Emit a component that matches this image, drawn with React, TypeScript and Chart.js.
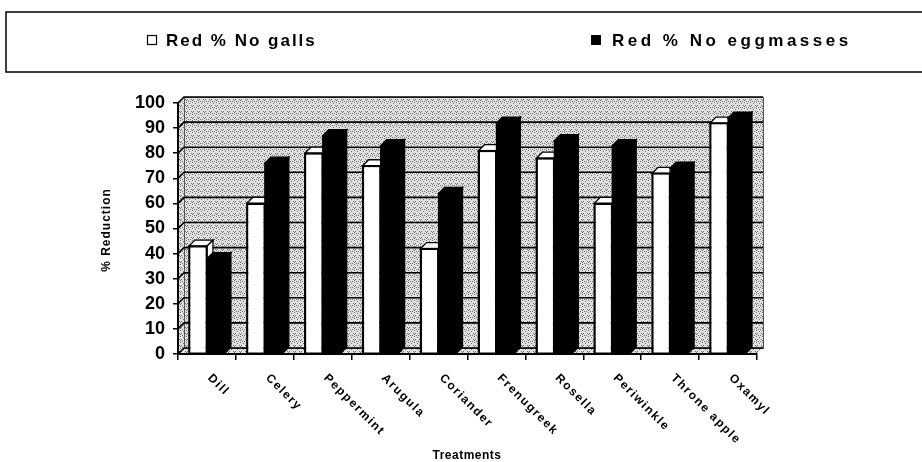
import React, { useEffect, useRef } from "react";
import { Chart, registerables } from "chart.js";

Chart.register(...registerables);

const categories = ["Dill", "Celery", "Peppermint", "Arugula", "Coriander", "Frenugreek", "Rosella", "Periwinkle", "Throne apple", "Oxamyl"];
const seriesLabels = ["Red % No galls", "Red % No eggmasses"];
const gallsReduction = [43, 60, 80, 75, 42, 81, 78, 60, 72, 92];
const eggmassReduction = [38, 76, 87, 83, 64, 92, 85, 83, 74, 94];
const yMin = 0;
const yMax = 100;
const yStep = 10;
const xTitle = "Treatments";
const yTitle = "% Reduction";

const FONT = '"Liberation Sans", Arial, sans-serif';
const DX = 6;
const DY = -6;

function makePattern(): CanvasPattern | string {
  const pc = document.createElement("canvas");
  pc.width = 6;
  pc.height = 6;
  const p = pc.getContext("2d");
  if (!p) return "#c8c8c8";
  p.fillStyle = "#e0e0e0";
  p.fillRect(0, 0, 6, 6);
  p.fillStyle = "#707070";
  const dots = [[0, 0], [3, 1], [5, 3], [1, 3], [4, 5], [2, 5], [0, 4]];
  dots.forEach(([x, y]) => p.fillRect(x, y, 1, 1));
  const pat = p.createPattern(pc, "repeat");
  return pat || "#c8c8c8";
}

function setSpacing(ctx: any, v: string) {
  try { ctx.letterSpacing = v; } catch (e) { /* ignore */ }
}

export default function App() {
  const ref = useRef<HTMLCanvasElement | null>(null);

  useEffect(() => {
    const canvas = ref.current;
    if (!canvas) return;
    const pattern = makePattern();

    const wallPlugin = {
      id: "wall3d",
      beforeDraw(chart: any) {
        const { ctx, chartArea } = chart;
        const { left, right, top, bottom } = chartArea;
        const ys = chart.scales.y;
        ctx.save();
        ctx.fillStyle = pattern;
        ctx.fillRect(left + DX, top + DY, right - left, bottom - top);
        ctx.beginPath();
        ctx.moveTo(left, top);
        ctx.lineTo(left + DX, top + DY);
        ctx.lineTo(left + DX, bottom + DY);
        ctx.lineTo(left, bottom);
        ctx.closePath();
        ctx.fill();
        ctx.beginPath();
        ctx.moveTo(left, bottom);
        ctx.lineTo(left + DX, bottom + DY);
        ctx.lineTo(right + DX, bottom + DY);
        ctx.lineTo(right, bottom);
        ctx.closePath();
        ctx.fill();
        ctx.strokeStyle = "#555";
        ctx.lineWidth = 1;
        ctx.strokeRect(left + DX + 0.5, top + DY + 0.5, right - left, bottom - top);
        ctx.strokeStyle = "#000";
        ctx.lineWidth = 1.6;
        ys.ticks.forEach((t: any) => {
          const y = ys.getPixelForValue(t.value);
          ctx.beginPath();
          ctx.moveTo(left, y);
          ctx.lineTo(left + DX, y + DY);
          ctx.lineTo(right + DX, y + DY);
          ctx.stroke();
        });
        ctx.restore();
      },
      afterDatasetsDraw(chart: any) {
        const { ctx } = chart;
        const m0 = chart.getDatasetMeta(0);
        const m1 = chart.getDatasetMeta(1);
        const box = (el: any, fill: string, front: boolean) => {
          const { x, y, base, width } = el.getProps(["x", "y", "base", "width"], true);
          const l = x - width / 2;
          const r = x + width / 2;
          ctx.fillStyle = fill;
          ctx.strokeStyle = "#000";
          ctx.lineWidth = 1.3;
          if (front) {
            ctx.fillRect(l, y, width, base - y);
          }
          ctx.beginPath();
          ctx.moveTo(r, base);
          ctx.lineTo(r, y);
          ctx.lineTo(r + DX, y + DY);
          ctx.lineTo(r + DX, base + DY);
          ctx.closePath();
          ctx.fill();
          ctx.stroke();
          ctx.beginPath();
          ctx.moveTo(l, y);
          ctx.lineTo(l + DX, y + DY);
          ctx.lineTo(r + DX, y + DY);
          ctx.lineTo(r, y);
          ctx.closePath();
          ctx.fill();
          ctx.stroke();
          if (front) {
            ctx.strokeRect(l, y, width, base - y);
          }
        };
        ctx.save();
        for (let i = 0; i < m0.data.length; i++) {
          box(m0.data[i], "#ffffff", false);
          const p0 = m0.data[i].getProps(["x", "y", "base", "width"], true);
          ctx.strokeStyle = "#000";
          ctx.lineWidth = 1.5;
          ctx.strokeRect(p0.x - p0.width / 2, p0.y, p0.width, p0.base - p0.y);
          box(m1.data[i], "#000000", true);
        }
        ctx.restore();
      },
      afterDraw(chart: any) {
        const { ctx, chartArea } = chart;
        const xs = chart.scales.x;
        ctx.save();
        ctx.strokeStyle = "#000";
        ctx.lineWidth = 1.5;
        ctx.strokeRect(6, 12, 960, 60);
        ctx.fillStyle = "#fff";
        ctx.fillRect(147.5, 35.5, 9, 9);
        ctx.strokeStyle = "#000";
        ctx.lineWidth = 1.2;
        ctx.strokeRect(147.5, 35.5, 9, 9);
        ctx.fillStyle = "#000";
        ctx.fillRect(591, 35, 10, 10);
        ctx.font = `bold 17px ${FONT}`;
        ctx.textBaseline = "middle";
        ctx.textAlign = "left";
        setSpacing(ctx, "2px");
        ctx.fillText(chart.data.datasets[0].label, 166, 41);
        setSpacing(ctx, "3.5px");
        ctx.fillText(chart.data.datasets[1].label, 612, 41);
        ctx.font = `bold 12px ${FONT}`;
        setSpacing(ctx, "1.5px");
        ctx.textBaseline = "top";
        chart.data.labels.forEach((lab: string, i: number) => {
          const x = xs.getPixelForValue(i) + 7;
          const y = chartArea.bottom + 18;
          ctx.save();
          ctx.translate(x, y);
          ctx.rotate(Math.PI / 4);
          ctx.fillText(lab, 0, 0);
          ctx.restore();
        });
        ctx.textBaseline = "middle";
        ctx.textAlign = "center";
        ctx.font = `bold 12px ${FONT}`;
        setSpacing(ctx, "0.5px");
        ctx.fillText(xTitle, 467, 456);
        ctx.save();
        ctx.translate(107, 230);
        ctx.rotate(-Math.PI / 2);
        ctx.font = `bold 12px ${FONT}`;
        setSpacing(ctx, "1px");
        ctx.fillText(yTitle, 0, 0);
        ctx.restore();
        setSpacing(ctx, "0px");
        ctx.restore();
      },
    };

    const chart = new Chart(canvas, {
      type: "bar",
      data: {
        labels: categories,
        datasets: [
          {
            label: seriesLabels[0],
            data: gallsReduction,
            backgroundColor: "#ffffff",
            borderColor: "#000000",
            borderWidth: 1.5,
          },
          {
            label: seriesLabels[1],
            data: eggmassReduction,
            backgroundColor: "#000000",
            borderColor: "#000000",
            borderWidth: 1.5,
          },
        ],
      },
      options: {
        responsive: false,
        animation: false,
        events: [],
        layout: { padding: { top: 103, right: 165, bottom: 102, left: 0 } },
        plugins: {
          legend: { display: false },
          tooltip: { enabled: false },
          title: { display: false },
        },
        datasets: {
          bar: { categoryPercentage: 0.62, barPercentage: 1.0 },
        },
        scales: {
          x: {
            grid: { offset: true, drawOnChartArea: false, drawTicks: true, tickLength: 6, color: "#000", lineWidth: 1.5 },
            border: { display: true, color: "#000", width: 2 },
            ticks: { display: false },
          },
          y: {
            min: yMin,
            max: yMax,
            afterFit: (scale: any) => { scale.width = 178; },
            grid: { drawOnChartArea: false, drawTicks: true, tickLength: 5, color: "#000", lineWidth: 1.5 },
            border: { display: true, color: "#000", width: 2 },
            ticks: {
              stepSize: yStep,
              padding: 8,
              color: "#000",
              font: { family: FONT, size: 18, weight: "bold" },
            },
          },
        },
      },
      plugins: [wallPlugin],
    } as any);

    return () => { chart.destroy(); };
  }, []);

  return (
    <div style={{ position: "fixed", left: 0, top: 0, width: 922, height: 462, background: "#fff" }}>
      <canvas ref={ref} width={922} height={462} style={{ display: "block", width: 922, height: 462 }} />
    </div>
  );
}
